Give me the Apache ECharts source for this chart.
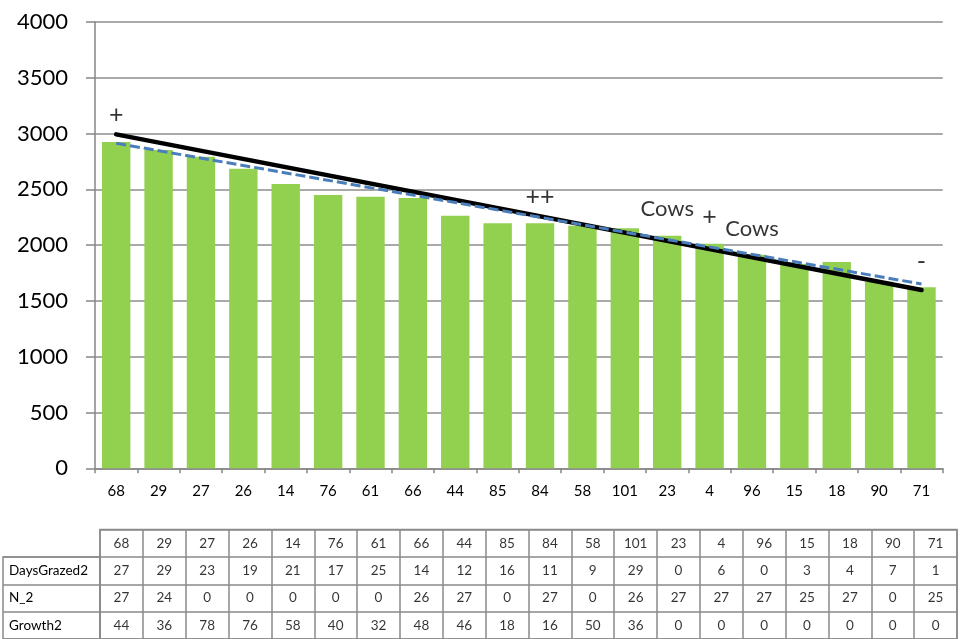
<!DOCTYPE html>
<html>
<head>
<meta charset="utf-8">
<script src="https://cdn.jsdelivr.net/npm/echarts@6/dist/echarts.min.js"></script>
<style>
html,body{margin:0;padding:0;background:#fff;}
#chart{width:969px;height:639px;}
</style>
</head>
<body>
<div id="chart"></div>
<script>
// ---- data ----
const categories = ['68','29','27','26','14','76','61','66','44','85','84','58','101','23','4','96','15','18','90','71'];
const barValues = [2925,2853,2793,2685,2548,2449,2434,2422,2264,2196,2196,2174,2151,2085,2013,1915,1830,1848,1672,1622];
const blackLine = [2993,null,null,null,null,null,null,null,null,null,null,null,null,null,null,null,null,null,null,1598];
const blueLine  = [2913,null,null,null,null,null,null,null,null,null,null,null,null,null,null,null,null,null,null,1652];
const daysGrazed2 = [27,29,23,19,21,17,25,14,12,16,11,9,29,0,6,0,3,4,7,1];
const n2 = [27,24,0,0,0,0,0,26,27,0,27,0,26,27,27,27,25,27,0,25];
const growth2 = [44,36,78,76,58,40,32,48,46,18,16,50,36,0,0,0,0,0,0,0];
const rowNames = ['DaysGrazed2','N_2','Growth2'];
const annoCats = [0,10,13,14,15,19];
const annoValues = [3164,2434,2321,2249,2142,1852];
const annoTexts = ['+','++','Cows','+','Cows','-'];
const yMin = 0, yMax = 4000, yStep = 500;

// ---- build ----
const FONT = 'Lato, "Open Sans", sans-serif';
const AX = '#868686';
const TB = '#8a8a8a';

const tableRows = [categories, daysGrazed2, n2, growth2];
const tableData = [];
tableRows.forEach((row, r) => row.forEach((v, c) => tableData.push([c, r, String(v)])));

const annoData = annoTexts.map((t, i) => ({
  value: [annoCats[i], annoValues[i], t],
  label: { fontSize: t === 'Cows' ? 22 : 25 }
}));

const chart = echarts.init(document.getElementById('chart'), null, {renderer: 'canvas'});
chart.setOption({
  animation: false,
  backgroundColor: '#fff',
  textStyle: { fontFamily: FONT },
  grid: [
    { left: 95, right: 26.3, top: 22, bottom: 170.7 },
    { left: 100, width: 857, top: 529.5, height: 109.6, show: true, borderColor: TB, borderWidth: 1.5 },
    { left: 3, width: 97, top: 556.9, height: 82.2, show: true, borderColor: TB, borderWidth: 1.5 }
  ],
  xAxis: [
    { type: 'category', gridIndex: 0, data: categories,
      axisLine: { lineStyle: { color: AX, width: 1.5 } },
      axisTick: { show: true, interval: 0, length: 5, lineStyle: { color: AX, width: 1.5 } },
      axisLabel: { interval: 0, color: '#000', fontSize: 15, margin: 15, fontFamily: FONT },
      splitLine: { show: false } },
    { type: 'category', gridIndex: 1, data: categories,
      axisLine: { show: false }, axisTick: { show: false }, axisLabel: { show: false },
      splitLine: { show: true, interval: 0, lineStyle: { color: TB, width: 1.5 } } },
    { type: 'category', gridIndex: 2, data: [''],
      axisLine: { show: false }, axisTick: { show: false }, axisLabel: { show: false },
      splitLine: { show: false } }
  ],
  yAxis: [
    { type: 'value', gridIndex: 0, min: yMin, max: yMax, interval: yStep,
      axisLine: { show: true, lineStyle: { color: AX, width: 1.5 } },
      axisTick: { show: true, length: 9, lineStyle: { color: AX, width: 1.5 } },
      axisLabel: { color: '#000', fontSize: 22, margin: 27, fontFamily: FONT, formatter: v => String(v) },
      splitLine: { show: true, lineStyle: { color: '#8c8c8c', width: 1.5 } } },
    { type: 'category', gridIndex: 1, inverse: true, data: ['', ...rowNames],
      axisLine: { show: false }, axisTick: { show: false }, axisLabel: { show: false },
      splitLine: { show: true, interval: 0, lineStyle: { color: TB, width: 1.5 } } },
    { type: 'category', gridIndex: 2, inverse: true, data: rowNames,
      axisLine: { show: false }, axisTick: { show: false },
      axisLabel: { inside: true, margin: 6, color: '#000', fontSize: 13.5, fontFamily: FONT, align: 'left' },
      splitLine: { show: true, interval: 0, lineStyle: { color: TB, width: 1.5 } } }
  ],
  series: [
    { type: 'bar', xAxisIndex: 0, yAxisIndex: 0, data: barValues,
      barCategoryGap: '33%', itemStyle: { color: '#92D050' }, z: 2 },
    { type: 'line', xAxisIndex: 0, yAxisIndex: 0, data: blackLine, connectNulls: true,
      symbol: 'none', lineStyle: { color: '#000', width: 4.5, cap: 'round' }, z: 3 },
    { type: 'line', xAxisIndex: 0, yAxisIndex: 0, data: blueLine, connectNulls: true,
      symbol: 'none', lineStyle: { color: '#4A7EBB', width: 3, type: [10, 4] }, z: 4 },
    { type: 'scatter', xAxisIndex: 0, yAxisIndex: 0, data: annoData, symbolSize: 0,
      label: { show: true, position: 'inside', color: '#000', fontFamily: FONT,
               formatter: p => p.data.value[2] }, z: 5 },
    { type: 'scatter', xAxisIndex: 1, yAxisIndex: 1, data: tableData, symbolSize: 0,
      label: { show: true, position: 'inside', color: '#000', fontSize: 13.5, fontFamily: FONT,
               formatter: p => p.data[2] } }
  ]
});
</script>
</body>
</html>
